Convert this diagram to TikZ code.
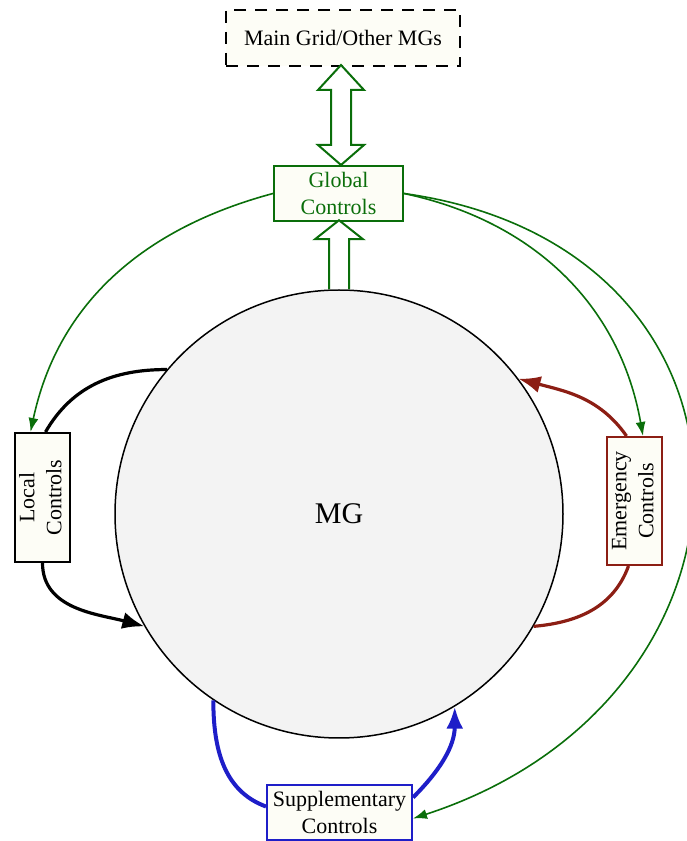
\documentclass[tikz,border=0pt]{standalone}
\usepackage{fontspec}
\setmainfont{Liberation Serif}
\usetikzlibrary{calc,positioning,arrows.meta}

\definecolor{ctlgreen}{RGB}{10,110,10}
\definecolor{ctlred}{RGB}{140,30,20}
\definecolor{ctlblue}{RGB}{30,30,200}
\definecolor{boxfill}{RGB}{253,253,246}
\definecolor{mgfill}{RGB}{243,243,243}

\begin{document}
\begin{tikzpicture}[
    x=1pt, y=1pt,
    align=center,
    font=\fontsize{22}{27}\selectfont,
    base/.style={rectangle, line width=2pt, fill=boxfill, inner sep=0pt},
    grid/.style={base, draw=black, dashed, dash pattern=on 12pt off 9pt},
    gctl/.style={base, draw=ctlgreen, text=ctlgreen},
    lctl/.style={base, draw=black},
    ectl/.style={base, draw=ctlred},
    sctl/.style={base, draw=ctlblue},
    hollow/.style={draw=ctlgreen, line width=2pt, fill=white, line join=miter},
    glink/.style={ctlgreen, line width=1.6pt, -{Latex[length=14pt,width=10pt]}},
    loop/.style={line width=3.2pt},
    tip/.style={-{Latex[length=22pt,width=17pt]}}
  ]
  \useasboundingbox (0,0) rectangle (687,841);

  \node (mg)     [circle, draw=black, line width=1.5pt, fill=mgfill,
                  minimum size=448pt, font=\fontsize{30}{34}\selectfont]
                  at (339,327)                      {MG};

  \node (grid)   [grid, minimum width=234pt, minimum height=56pt]
                  at (343,803)                      {Main Grid/Other MGs};

  \node (global) [gctl, minimum width=129pt, minimum height=55pt]
                  at (338.5,647.5)                  {Global\\Controls};

  \node (local)  [lctl, minimum width=55pt, minimum height=129pt]
                  at (42.5,343.5)                   {\rotatebox{90}{\begin{tabular}{@{}c@{}}Local\\Controls\end{tabular}}};

  \node (emerg)  [ectl, minimum width=55pt, minimum height=128pt]
                  at (634.5,340)                    {\rotatebox{90}{\begin{tabular}{@{}c@{}}Emergency\\Controls\end{tabular}}};

  \node (supp)   [sctl, minimum width=145pt, minimum height=55pt]
                  at (339.5,28.5)                   {Supplementary\\Controls};

  % hollow arrows
  \draw[hollow] ([xshift=2.5pt]global.north) -- ++(-23,20) -- ++(13,0) -- ++(0,55)
                -- ++(-13,0) -- ++(23,25) -- ++(23,-25) -- ++(-13,0) -- ++(0,-55)
                -- ++(13,0) -- cycle;
  \draw[hollow] ([xshift=10pt]mg.north) -- ++(0,50) -- ++(14,0) -- ++(-24,19)
                -- ++(-24,-19) -- ++(14,0) -- ++(0,-50);

  % control loops
  \draw[loop]            (mg.140)    to[out=180,in=60]   ([xshift=3pt]local.north);
  \draw[loop,tip]        (local.south) to[out=-90,in=165] (mg.210);

  \draw[loop,ctlred,tip] ([xshift=-8pt]emerg.north) to[out=125,in=-15] (mg.37);
  \draw[loop,ctlred]     ([xshift=-6pt]emerg.south) to[out=-110,in=5]  (mg.-30);

  \draw[loop,ctlblue,line width=4pt] (mg.236) to[out=-90,in=160] ([yshift=6pt]supp.west);
  \draw[loop,ctlblue,line width=4pt,tip] ([yshift=15pt]supp.east) to[out=45,in=-90] (mg.-59);

  % global links
  \draw[glink]  (global.west) to[out=195,in=78]  ([xshift=-12pt]local.north);
  \draw[glink]  (global.east) to[out=-12,in=100] ([xshift=8.5pt]emerg.north);
  \draw[glink]  (global.east) .. controls +(-8:390) and +(18:390) .. ([yshift=-6pt]supp.east);
\end{tikzpicture}
\end{document}
